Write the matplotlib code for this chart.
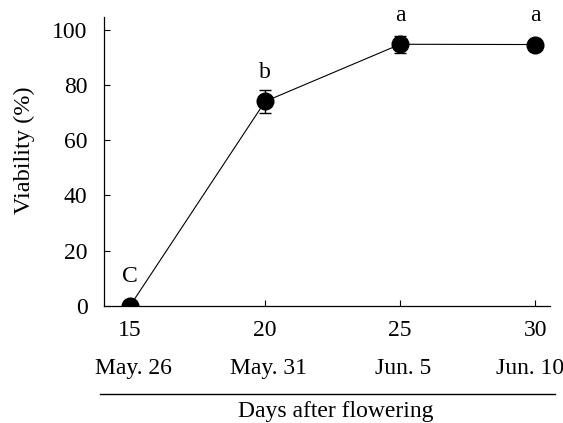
import matplotlib.pyplot as plt
import matplotlib.transforms as mtransforms
from matplotlib.lines import Line2D

# data
days = [15, 20, 25, 30]
dates = ['May. 26', 'May. 31', 'Jun. 5', 'Jun. 10']
viability = [0.0, 74.0, 94.7, 94.6]
err = [0.0, 4.3, 3.0, 1.0]
letters = ['C', 'b', 'a', 'a']

plt.rcParams['font.family'] = ['Liberation Serif', 'DejaVu Serif']

fig = plt.figure(figsize=(5.63, 4.23), dpi=100)
ax = fig.add_axes([0.185, 0.277, 0.792, 0.683])

ax.errorbar(days, viability, yerr=err, fmt='o-', color='black', lw=0.8,
            ms=12, elinewidth=1.0, capsize=4, capthick=1.0, zorder=3)

# significance letters above each point
for d, v, s in zip(days, viability, letters):
    ax.annotate(s, (d, v), xytext=(0, 21), textcoords='offset points',
                ha='center', va='center', fontsize=17)

ax.set_xlim(14.04, 30.55)
ax.set_ylim(0, 104.6)
ax.set_xticks(days)
ax.set_yticks([0, 20, 40, 60, 80, 100])
ax.tick_params(direction='in', length=4, width=0.8, labelsize=17)
ax.tick_params(axis='x', pad=10)
ax.tick_params(axis='y', pad=12)
ax.spines['top'].set_visible(False)
ax.spines['right'].set_visible(False)
for sp in ('left', 'bottom'):
    ax.spines[sp].set_linewidth(0.9)

ax.set_ylabel('Viability (%)', fontsize=17.5)
ax.yaxis.set_label_coords(-0.155, 0.54)

# second row of dates under the day numbers
trans = mtransforms.blended_transform_factory(ax.transData, fig.transFigure)
for i, (d, lab) in enumerate(zip(days, dates)):
    shift = -5 if i == len(days) - 1 else 3
    ax.annotate(lab, (d, 1 - 368 / 423), xycoords=trans, xytext=(shift, 0),
                textcoords='offset pixels', ha='center', va='center',
                fontsize=17)

fig.add_artist(Line2D([100 / 563, 555 / 563], [1 - 394 / 423, 1 - 394 / 423],
                      color='black', lw=1.0, transform=fig.transFigure))
fig.text(0.597, 1 - 411 / 423, 'Days after flowering', ha='center',
         va='center', fontsize=17)

fig.savefig('out.png', dpi=100)
